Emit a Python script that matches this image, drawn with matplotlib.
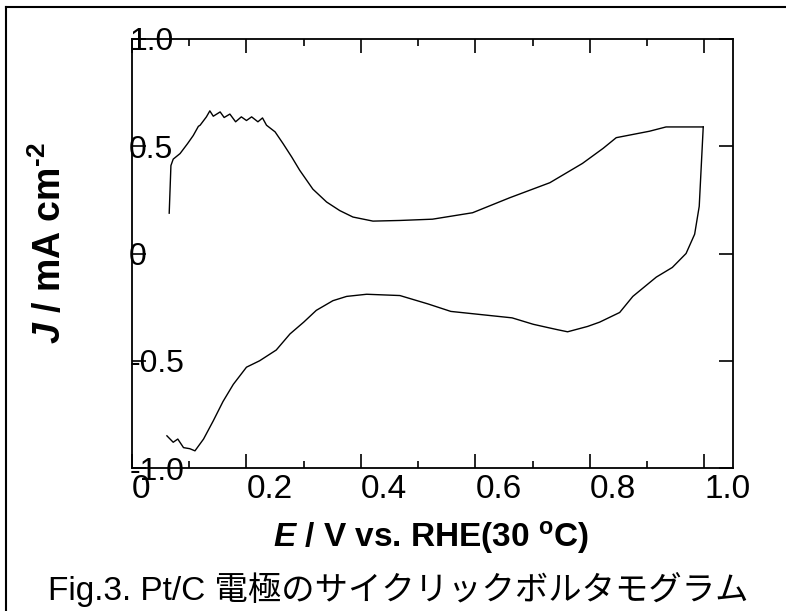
import matplotlib
matplotlib.use("Agg")
import matplotlib.pyplot as plt
from matplotlib.lines import Line2D

plt.rcParams['font.family'] = ['Liberation Sans', 'Noto Sans CJK JP', 'DejaVu Sans']
plt.rcParams['mathtext.fontset'] = 'custom'
plt.rcParams['mathtext.rm'] = 'Liberation Sans:bold'
plt.rcParams['mathtext.it'] = 'Liberation Sans:bold:italic'

# anodic scan (upper branch)
e_up = [0.065, 0.068, 0.072, 0.084, 0.097, 0.107, 0.116, 0.119, 0.130, 0.136, 0.142,
        0.154, 0.161, 0.171, 0.181, 0.191, 0.200, 0.209, 0.220, 0.228, 0.235, 0.250,
        0.264, 0.279, 0.293, 0.316, 0.340, 0.363, 0.386, 0.421, 0.468, 0.525, 0.595,
        0.660, 0.730, 0.787, 0.823, 0.846, 0.904, 0.933, 0.974, 0.998]
j_up = [0.188, 0.410, 0.440, 0.466, 0.512, 0.550, 0.593, 0.598, 0.637, 0.665, 0.640,
        0.660, 0.634, 0.650, 0.614, 0.637, 0.620, 0.637, 0.614, 0.632, 0.598, 0.567,
        0.512, 0.450, 0.388, 0.300, 0.240, 0.200, 0.170, 0.151, 0.154, 0.160, 0.190,
        0.260, 0.330, 0.420, 0.490, 0.540, 0.570, 0.590, 0.590, 0.590]

# cathodic scan (lower branch)
e_down = [0.998, 0.991, 0.983, 0.968, 0.944, 0.916, 0.875, 0.852, 0.817, 0.796, 0.761,
          0.743, 0.726, 0.701, 0.664, 0.557, 0.517, 0.468, 0.410, 0.375, 0.351, 0.322,
          0.300, 0.276, 0.252, 0.223, 0.200, 0.177, 0.159, 0.142, 0.125, 0.110, 0.101,
          0.090, 0.080, 0.072, 0.061]
j_down = [0.590, 0.220, 0.090, 0.000, -0.065, -0.110, -0.200, -0.275, -0.320, -0.340,
          -0.365, -0.355, -0.345, -0.330, -0.300, -0.270, -0.235, -0.196, -0.190, -0.200,
          -0.220, -0.265, -0.320, -0.375, -0.450, -0.500, -0.530, -0.610, -0.690, -0.780,
          -0.865, -0.920, -0.910, -0.905, -0.865, -0.880, -0.850]

xticks = [0, 0.2, 0.4, 0.6, 0.8, 1.0]
xticklabels = ['0', '0.2', '0.4', '0.6', '0.8', '1.0']
yticks = [-1.0, -0.5, 0, 0.5, 1.0]
yticklabels = ['-1.0', '-0.5', '0', '0.5', '1.0']

fig = plt.figure(figsize=(7.86, 6.11), dpi=100)
ax = fig.add_axes([132/786, 1 - 468/611, 601/786, 429/611])

ax.plot(e_up, j_up, color='black', lw=1.0)
ax.plot(e_down, j_down, color='black', lw=1.0)

ax.set_xlim(0, 1.05)
ax.set_ylim(-1.0, 1.0)
ax.set_xticks(xticks)
ax.set_xticklabels(xticklabels)
ax.set_xticks([0.1, 0.3, 0.5, 0.7, 0.9], minor=True)
ax.set_yticks(yticks)
ax.set_yticklabels(yticklabels)

ax.tick_params(which='both', direction='in', top=True, right=True, width=1.2, color='black')
ax.tick_params(which='major', length=10)
ax.tick_params(which='minor', length=5)
ax.tick_params(axis='x', labelsize=24, pad=4)
ax.tick_params(axis='y', labelsize=23, pad=2)
for lab in ax.get_xticklabels():
    lab.set_ha('left')
for lab in ax.get_yticklabels():
    lab.set_ha('left')
for sp in ax.spines.values():
    sp.set_linewidth(1.3)

ax.set_xlabel(r'$\it{E}$ / V vs. RHE(30 $^{\rm o}$C)', fontsize=24, fontweight='bold')
ax.xaxis.set_label_coords(0.497, -0.118)
ax.set_ylabel('$\\it{J}$ / mA cm$^{\\rm \u20102}$', fontsize=27, fontweight='bold')
ax.yaxis.set_label_coords(-0.105, 0.525)

fig.text(0.507, 0.018, 'Fig.3. Pt/C 電極のサイクリックボルタモグラム', fontsize=24,
         ha='center', va='baseline')

# frame lines at the top and left of the figure
fig.add_artist(Line2D([6.5/786, 6.5/786], [0, 1 - 7/611], color='black', lw=1.5))
fig.add_artist(Line2D([6.5/786, 1], [1 - 7/611, 1 - 7/611], color='black', lw=1.5))

fig.savefig('out.png', dpi=100)
